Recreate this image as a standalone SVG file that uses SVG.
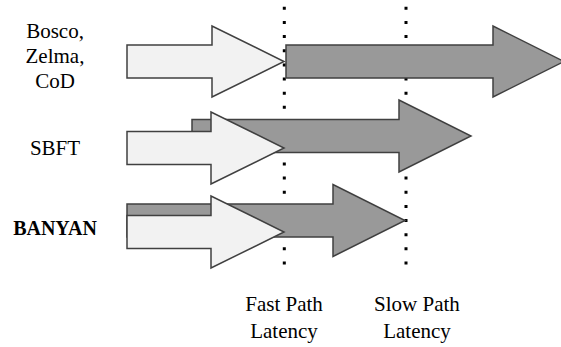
<svg xmlns="http://www.w3.org/2000/svg" width="561" height="347" viewBox="0 0 561 347">
<style>
.lbl{font-family:"Liberation Serif","Times New Roman",serif;font-size:21px;fill:#000;text-anchor:middle}
.bold{font-weight:bold;font-size:20px}
.w{fill:#f2f2f2;stroke:#404040;stroke-width:1.5;stroke-linejoin:miter}
.g{fill:#999999;stroke:#404040;stroke-width:1.5;stroke-linejoin:miter}
.dot{stroke:#000;stroke-width:3;stroke-dasharray:3 11.15;fill:none}
</style>
<rect width="561" height="347" fill="#fff"/>
<g id="markers">
<line class="dot" x1="284.3" y1="6.8" x2="284.3" y2="266"/>
<line class="dot" x1="406" y1="6.8" x2="406" y2="266"/>
</g>
<g id="row-bosco">
<path class="g" d="M286,45 H493 V26 L564,61.5 L493,97 V78 H286 Z"/>
<path class="w" d="M127,45 H212 V26 L284,61.5 L212,97 V78 H127 Z"/>
<text class="lbl" x="55" y="38">Bosco,</text>
<text class="lbl" x="55" y="63">Zelma,</text>
<text class="lbl" x="55" y="88">CoD</text>
</g>
<g id="row-sbft">
<path class="g" d="M192,119.5 H399 V100 L471,136 L399,172 V152.5 H192 Z"/>
<path class="w" d="M127,131.5 H211 V112 L284,148 L211,184 V164.5 H127 Z"/>
<text class="lbl" x="55" y="155">SBFT</text>
</g>
<g id="row-banyan">
<path class="g" d="M127,204 H333 V184.5 L405,220.5 L333,256.5 V237 H127 Z"/>
<path class="w" d="M127,215.5 H211 V196 L284,232 L211,268 V248.5 H127 Z"/>
<text class="lbl bold" x="55" y="235">BANYAN</text>
</g>
<g id="axis-labels">
<text class="lbl" x="284" y="311">Fast Path</text>
<text class="lbl" x="284" y="338">Latency</text>
<text class="lbl" x="417" y="311">Slow Path</text>
<text class="lbl" x="417" y="338">Latency</text>
</g>
</svg>
